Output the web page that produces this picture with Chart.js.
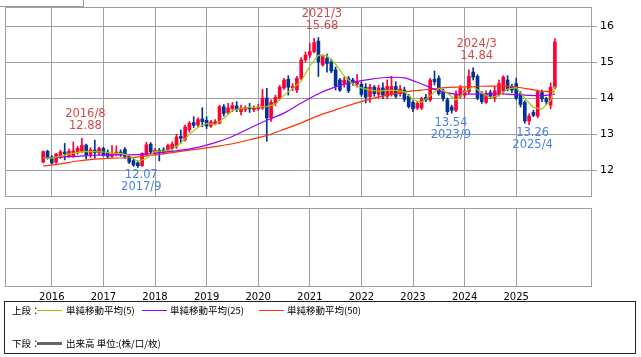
<!DOCTYPE html>
<html><head><meta charset="utf-8">
<script src="https://cdn.jsdelivr.net/npm/chart.js@4.4.1/dist/chart.umd.min.js"></script>
<style>
html,body{margin:0;padding:0;background:#fff;}
#wrap{position:relative;width:641px;height:357px;overflow:hidden;background:#fff;}
#c1{position:absolute;left:0;top:0;}
#c2{position:absolute;left:0;top:200px;}
#topbox{position:absolute;left:0;top:0;width:84px;height:7px;border-right:1px solid #999;border-bottom:1px solid #999;box-sizing:border-box;}
#legend{position:absolute;left:4px;top:301px;width:632px;height:53px;border:1px solid #222;box-sizing:border-box;font-family:"Noto Sans CJK JP","Noto Sans";font-size:9.5px;color:#000;}
.t{position:absolute;white-space:nowrap;line-height:12px;}
.ln{position:absolute;height:1px;width:25px;}
</style></head>
<body><div id="wrap">
<canvas id="c1" width="641" height="200"></canvas>
<canvas id="c2" width="641" height="110"></canvas>
<div id="topbox"></div>
<div id="legend">
  <span class="t" style="left:7px;top:2px;">上段：</span>
  <span class="ln" style="left:32px;top:8px;background:#99cc00;"></span>
  <span class="t" style="left:61px;top:2px;">単純移動平均(5)</span>
  <span class="ln" style="left:137px;top:8px;background:#9900ff;"></span>
  <span class="t" style="left:165px;top:2px;">単純移動平均(25)</span>
  <span class="ln" style="left:254px;top:8px;background:#ff3300;"></span>
  <span class="t" style="left:282px;top:2px;">単純移動平均(50)</span>
  <span class="t" style="left:7px;top:35px;">下段：</span>
  <span class="ln" style="left:32px;top:40px;height:3px;background:#666;"></span>
  <span class="t" style="left:61px;top:35px;">出来高 単位:(株/口/枚)</span>
</div>
</div>
<script>
// Monthly candles, 2015/11 .. 2025/10
const opens  = [12.22,12.52,12.36,12.22,12.38,12.50,12.40,12.40,12.48,12.52,12.69,12.42,12.55,12.47,12.60,12.50,12.38,12.44,12.50,12.57,
12.38,12.26,12.20,12.12,12.44,12.72,12.50,12.55,12.56,12.55,12.60,12.66,12.93,12.85,13.12,13.32,13.25,13.42,13.38,13.22,
13.28,13.30,13.76,13.60,13.70,13.78,13.62,13.68,13.74,13.68,13.70,13.72,14.00,13.45,13.85,13.98,14.28,14.52,14.28,14.22,
14.55,15.06,15.19,15.29,15.58,14.92,15.10,15.00,14.78,14.50,14.41,14.55,14.50,14.38,14.38,14.30,14.04,14.30,14.10,14.28,
14.05,14.10,14.32,14.12,14.22,14.05,13.88,13.72,13.72,14.02,13.95,14.52,14.55,14.20,13.95,13.75,13.66,14.05,14.08,14.18,
14.72,14.60,14.12,13.88,14.15,14.00,14.10,14.20,14.50,14.30,14.40,14.12,13.88,13.36,13.60,13.50,14.15,13.98,13.80,14.30];
const highs  = [12.53,12.55,12.40,12.46,12.55,12.74,12.58,12.78,12.66,12.88,12.72,12.62,12.83,12.64,12.63,12.56,12.68,12.67,12.56,12.62,
12.42,12.30,12.25,12.48,12.77,12.76,12.60,12.60,12.62,12.72,12.78,12.99,13.11,13.25,13.35,13.48,13.45,13.73,13.48,13.38,
13.40,13.80,13.82,13.85,13.88,13.90,13.80,13.78,13.85,13.78,13.82,14.24,14.27,13.95,14.08,14.35,14.55,14.62,14.40,14.60,
15.12,15.28,15.52,15.66,15.68,15.20,15.22,15.08,14.86,14.55,14.58,14.60,14.55,14.65,14.45,14.40,14.38,14.35,14.35,14.42,
14.50,14.60,14.45,14.35,14.30,14.10,13.92,13.90,14.02,14.10,14.55,14.75,14.62,14.25,14.00,13.80,14.20,14.35,14.28,14.78,
14.84,14.65,14.18,14.20,14.22,14.32,14.50,14.62,14.62,14.38,14.55,14.18,13.92,13.56,13.66,14.22,14.22,14.02,14.42,15.65];
const lows   = [12.20,12.30,12.16,12.18,12.32,12.28,12.35,12.35,12.44,12.48,12.30,12.35,12.33,12.42,12.38,12.33,12.35,12.40,12.38,12.33,
12.18,12.10,12.07,12.10,12.40,12.45,12.45,12.25,12.45,12.50,12.55,12.60,12.74,12.80,13.05,13.18,13.20,13.20,13.15,13.18,
13.25,13.28,13.50,13.55,13.62,13.62,13.53,13.62,13.60,13.62,13.65,13.68,12.80,13.35,13.78,13.95,14.24,14.08,14.20,14.15,
14.50,15.00,15.12,15.25,14.60,14.88,14.72,14.70,14.22,14.18,14.30,14.15,14.35,14.30,14.05,13.86,13.88,14.05,14.00,13.98,
13.98,14.05,14.00,14.05,13.90,13.72,13.62,13.68,13.68,13.90,13.90,14.36,14.08,13.92,13.54,13.58,13.62,14.00,14.00,14.12,
14.50,13.95,13.85,13.85,13.98,13.90,14.05,14.12,14.20,14.15,13.95,13.75,13.30,13.26,13.48,13.45,13.90,13.82,13.70,14.25];
const closes = [12.51,12.37,12.20,12.44,12.50,12.45,12.52,12.53,12.60,12.68,12.42,12.56,12.48,12.60,12.42,12.38,12.45,12.50,12.44,12.38,
12.22,12.14,12.12,12.46,12.70,12.50,12.55,12.48,12.50,12.68,12.72,12.92,12.88,13.20,13.30,13.24,13.40,13.34,13.22,13.33,
13.34,13.76,13.57,13.72,13.79,13.68,13.72,13.74,13.70,13.72,13.74,14.00,13.45,13.88,14.02,14.30,14.50,14.30,14.32,14.55,
15.06,15.19,15.29,15.54,15.00,15.15,14.96,14.75,14.33,14.22,14.50,14.20,14.42,14.45,14.10,14.02,14.30,14.12,14.28,14.08,
14.32,14.32,14.05,14.25,13.96,13.76,13.70,13.85,13.98,13.95,14.50,14.45,14.12,13.98,13.62,13.66,14.10,14.28,14.20,14.60,
14.58,14.00,13.90,14.12,14.05,14.20,14.40,14.58,14.25,14.22,14.00,13.82,13.36,13.50,13.52,14.18,13.98,13.90,14.30,15.56];

// moving averages
const ma5Idx = [0,2,4,6,8,10,12,14,16,18,20,22,24,26,28,30,32,34,36,38,40,42,44,46,48,50,52,54,56,58,60,62,64,66,68,70,72,74,76,78,80,82,84,86,88,90,92,94,96,98,100,102,104,106,108,110,112,114,116,118,119];
const ma5 = [12.33,12.33,12.39,12.44,12.49,12.52,12.51,12.50,12.47,12.46,12.40,12.24,12.32,12.52,12.53,12.57,12.75,12.99,13.19,13.29,
13.26,13.44,13.65,13.71,13.74,13.75,13.76,13.83,14.08,14.26,14.47,14.89,15.19,15.17,14.94,14.61,14.39,14.28,14.22,14.19,
14.21,14.21,14.17,13.96,13.88,14.06,14.27,14.14,13.94,14.17,14.32,14.14,14.01,14.07,14.25,14.29,13.99,13.74,13.69,13.94,14.33];
const maLongIdx = [0,4,8,12,16,20,24,28,32,36,40,44,48,52,56,60,64,68,72,76,80,84,88,92,96,100,104,108,112,116,119];
const ma25 = [12.33,12.36,12.38,12.41,12.42,12.42,12.44,12.49,12.55,12.63,12.76,12.93,13.16,13.38,13.58,13.86,14.12,14.31,14.44,14.52,
14.57,14.56,14.39,14.20,14.11,14.11,14.11,14.11,14.08,14.06,14.11];
const ma50 = [12.11,12.17,12.25,12.30,12.33,12.34,12.39,12.45,12.52,12.58,12.65,12.73,12.84,12.96,13.13,13.31,13.51,13.67,13.83,13.97,
14.08,14.17,14.22,14.27,14.30,14.32,14.33,14.33,14.27,14.19,14.17];

const yTicks = [12,13,14,15,16];
const yearLabels = ['2016','2017','2018','2019','2020','2021','2022','2023','2024','2025'];
const yearIdx = [2,14,26,38,50,62,74,86,98,110];

const annIdx  = [9,22,64,94,100,113];
const annVal  = [12.88,12.07,15.68,13.54,14.84,13.26];
const annDate = ['2016/8','2017/9','2021/3','2023/9','2024/3','2025/4'];
const annHigh = [true,false,true,false,true,false];

const UP='#ff0033', DOWN='#003399', GRID='#a0a0a0';
const XMIN=-8.884, XMAX=127.628;
const idx = opens.map((_,i)=>i);
const cols = idx.map(i => closes[i] >= opens[i] ? UP : DOWN);

const framePlugin = {
  id:'frame',
  beforeDatasetsDraw(chart){
    const a = chart.chartArea, ctx = chart.ctx;
    ctx.save(); ctx.strokeStyle = GRID; ctx.lineWidth = 1;
    ctx.strokeRect(Math.round(a.left)+0.5, Math.round(a.top)+0.5, Math.round(a.right-a.left)-1, Math.round(a.bottom-a.top)-1);
    ctx.restore();
  }
};
const annPlugin = {
  id:'ann',
  afterDatasetsDraw(chart){
    const ctx = chart.ctx, xs = chart.scales.x, ys = chart.scales.y;
    ctx.save();
    ctx.font = '11.5px "DejaVu Sans"';
    ctx.textAlign = 'center'; ctx.textBaseline = 'middle';
    annIdx.forEach((ix,k)=>{
      const x = xs.getPixelForValue(ix) + 3.5;
      const y = ys.getPixelForValue(annVal[k]);
      const v = annVal[k].toFixed(2);
      if (annHigh[k]) {
        ctx.fillStyle = '#d24b4b';
        ctx.fillText(annDate[k], x, y - 24);
        ctx.fillText(v, x, y - 12);
      } else {
        ctx.fillStyle = '#4a80ea';
        ctx.fillText(v, x, y + 8);
        ctx.fillText(annDate[k], x, y + 20);
      }
    });
    ctx.restore();
  }
};

const pts = (ix, arr) => ix.map((i,k)=>({x:i, y:arr[k]}));
const noPadX = s => { s.paddingLeft = 0; s.paddingRight = 0; };
const noPadY = s => { s.paddingTop = 0; s.paddingBottom = 0; };

new Chart(document.getElementById('c1'), {
  type:'bar',
  data:{ datasets:[
    { type:'line', data:pts(ma5Idx, ma5), borderColor:'#99cc00', borderWidth:1.2, pointRadius:0, tension:0, order:0 },
    { type:'line', data:pts(maLongIdx, ma25), borderColor:'#9900ff', borderWidth:1.2, pointRadius:0, tension:0.3, order:0 },
    { type:'line', data:pts(maLongIdx, ma50), borderColor:'#ff3300', borderWidth:1.2, pointRadius:0, tension:0.3, order:0 },
    { type:'bar', data: idx.map(i=>({x:i, y:[opens[i], closes[i]]})), backgroundColor:cols, barThickness:3, minBarLength:1, grouped:false, order:1 },
    { type:'bar', data: idx.map(i=>({x:i, y:[lows[i], highs[i]]})), backgroundColor:cols, barThickness:1, grouped:false, order:2 }
  ]},
  options:{
    responsive:false, animation:false, devicePixelRatio:1,
    layout:{ padding:{ left:5, top:7, right:0, bottom:3 } },
    plugins:{ legend:{display:false}, tooltip:{enabled:false} },
    scales:{
      x:{ type:'linear', min:XMIN, max:XMAX, offset:false,
          grid:{ color:GRID, offset:false, drawTicks:false },
          border:{ display:false }, ticks:{ display:false },
          afterBuildTicks: s => { s.ticks = yearIdx.map(v=>({value:v})); },
          afterFit: s => { s.height = 0; noPadX(s); } },
      y:{ position:'right', min:11.25, max:16.528,
          grid:{ color:GRID, tickLength:5 }, border:{ display:false },
          ticks:{ color:'#000', padding:3, font:{ family:'DejaVu Sans', size:11 }, callback: v => String(v) },
          afterBuildTicks: s => { s.ticks = yTicks.map(v=>({value:v})); },
          afterFit: s => { s.width = 49; noPadY(s); } }
    }
  },
  plugins:[framePlugin, annPlugin]
});

new Chart(document.getElementById('c2'), {
  type:'line',
  data:{ datasets:[] },
  options:{
    responsive:false, animation:false, devicePixelRatio:1,
    layout:{ padding:{ left:5, top:8, right:0, bottom:0 } },
    plugins:{ legend:{display:false}, tooltip:{enabled:false} },
    scales:{
      x:{ type:'linear', min:XMIN, max:XMAX, offset:false,
          grid:{ color:GRID, offset:false, drawTicks:false }, border:{ display:false },
          ticks:{ color:'#000', padding:4, maxRotation:0, autoSkip:false, font:{ family:'DejaVu Sans', size:10 },
                  callback: v => { const k = yearIdx.indexOf(v); return k >= 0 ? yearLabels[k] : ''; } },
          afterBuildTicks: s => { s.ticks = yearIdx.map(v=>({value:v})); },
          afterFit: s => { s.height = 23; noPadX(s); } },
      y:{ position:'right', min:0, max:1, grid:{ display:false }, border:{ display:false },
          ticks:{ display:false }, afterFit: s => { s.width = 49; noPadY(s); } }
    }
  },
  plugins:[framePlugin]
});
</script>
</body></html>
